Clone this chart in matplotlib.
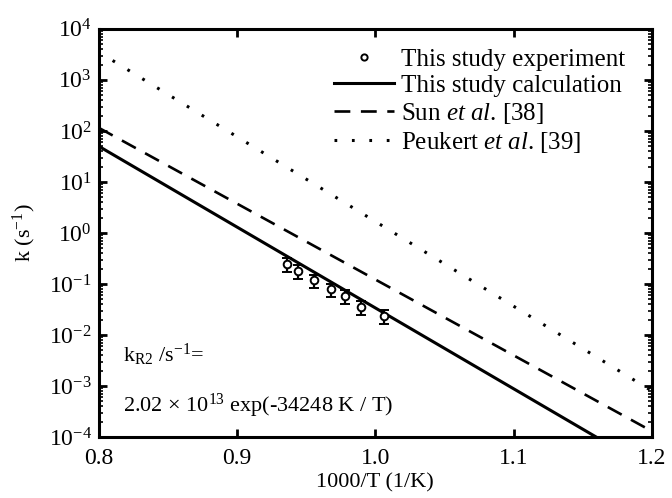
import numpy as np
import matplotlib
matplotlib.use('Agg')
import matplotlib.pyplot as plt
from matplotlib.lines import Line2D
from matplotlib.ticker import LogLocator, NullFormatter

plt.rcParams['font.family'] = ['Liberation Serif', 'DejaVu Serif']
plt.rcParams['mathtext.fontset'] = 'custom'
plt.rcParams['mathtext.rm'] = 'Liberation Serif'
plt.rcParams['mathtext.it'] = 'Liberation Serif:italic'
plt.rcParams['axes.unicode_minus'] = False

# experiment points (1000/T, k) with +-30 % error
exp_x = [0.936, 0.944, 0.956, 0.968, 0.978, 0.990, 1.006]
exp_k = [0.25, 0.178, 0.117, 0.078, 0.058, 0.035, 0.0234]
exp_err = 0.3

# Arrhenius lines read at the two ends of the x range
calc_x = [0.8, 1.2]
calc_k = [50.0, 2.3e-5]
sun_x = [0.8, 1.2]
sun_k = [115.0, 1.3e-4]
peukert_x = [0.81, 1.2]
peukert_k = [2.4e3, 8.0e-4]

x_ticks = [0.8, 0.9, 1.0, 1.1, 1.2]
x_labels = ['0.8', '0.9', '1.0', '1.1', '1.2']
y_ticks = [1e-4, 1e-3, 1e-2, 1e-1, 1e0, 1e1, 1e2, 1e3, 1e4]

fig = plt.figure(figsize=(6.72, 4.98), dpi=100)
ax = fig.add_axes([0.147, 0.1225, 0.823, 0.8195])

k = np.array(exp_k)
ax.errorbar(exp_x, exp_k, yerr=[k * exp_err, k * exp_err], fmt='o', ms=5.5,
            mfc='white', mec='black', mew=1.4, ecolor='black', elinewidth=1.6,
            capsize=3.5, capthick=2.2, zorder=3)
l_calc, = ax.plot(calc_x, calc_k, color='black', lw=2.2)
l_sun, = ax.plot(sun_x, sun_k, color='black', lw=1.9, dashes=(6, 4))
l_peu, = ax.plot(peukert_x, peukert_k, color='black', lw=2.2, dashes=(0.9, 4.8))
h_exp = Line2D([], [], ls='none', marker='o', ms=4.5, mfc='white', mec='black', mew=1.4)

ax.set_yscale('log')
ax.set_xlim(0.8, 1.2)
ax.set_ylim(1e-4, 1e4)
ax.set_xticks(x_ticks)
ax.set_xticklabels(x_labels)
ax.set_yticks(y_ticks)
ax.yaxis.set_minor_locator(LogLocator(base=10, subs=np.arange(2, 10), numticks=100))
ax.yaxis.set_minor_formatter(NullFormatter())

for s in ax.spines.values():
    s.set_linewidth(2.2)
ax.tick_params(which='both', direction='in', top=True, right=True, labelsize=17)
ax.tick_params(which='major', length=6, width=2.0)
ax.tick_params(which='minor', length=3, width=1.2)
ax.tick_params(axis='x', which='major', pad=8)
ax.tick_params(axis='y', which='major', pad=5)

ax.set_xlabel('1000/T (1/K)', fontsize=16, labelpad=3)
ax.set_ylabel(r'k (s$^{-1}$)', fontsize=16, labelpad=8)

ax.text(0.043, 0.2, r'k$_{\rm R2}$ /s$^{-1}$=', transform=ax.transAxes,
        fontsize=16, va='center', ha='left')
ax.text(0.043, 0.075, r'2.02 $\times$ 10$^{13}$ exp(-34248 K / T)',
        transform=ax.transAxes, fontsize=16, va='center', ha='left')

ax.legend([h_exp, l_calc, l_sun, l_peu],
          ['This study experiment', 'This study calculation',
           r'Sun $\it{et\ al}$. [38]', r'Peukert $\it{et\ al}$. [39]'],
          loc='upper left', bbox_to_anchor=(0.416, 0.965), frameon=False,
          fontsize=18, handlelength=2.4, handletextpad=0.28, labelspacing=0.16,
          borderpad=0.2, borderaxespad=0)

fig.savefig('out.png', dpi=100)
